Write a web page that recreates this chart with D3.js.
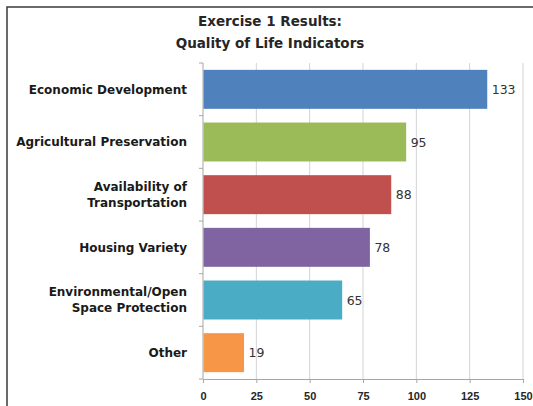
<!DOCTYPE html>
<html lang="en">
<head>
    <meta charset="UTF-8">
    <style>
        body { margin: 0; background: #fff; }
        svg { display: block; font-family: "DejaVu Sans", sans-serif; }
        .grid line { stroke: #d4d4d4; stroke-width: 1px; }
        .axis path, .axis line { stroke: #a6a6a6; stroke-width: 1px; }
        .axis text { fill: #262626; font-weight: bold; font-size: 11px; }
        .cat { fill: #1a1a1a; font-weight: bold; font-size: 12px; }
        .val { fill: #333; font-size: 12.5px; }
        .title { fill: #262626; font-weight: bold; font-size: 13.5px; }
    </style>
</head>
<body>
    <svg width="533" height="406"></svg>
    <script src="https://cdn.jsdelivr.net/npm/d3@7"></script>
    <script>

        // data
        var categories = ["Economic Development", "Agricultural Preservation", "Availability of\nTransportation",
                          "Housing Variety", "Environmental/Open\nSpace Protection", "Other"];
        var values = [133, 95, 88, 78, 65, 19];
        var colors = ["#4f81bd", "#9bbb59", "#c0504d", "#8064a2", "#4bacc6", "#f79646"];
        var ticks = [0, 25, 50, 75, 100, 125, 150];
        var titleLines = ["Exercise 1 Results:", "Quality of Life Indicators"];

        var svg = d3.select("svg"),
                margin = {top: 63, right: 10, bottom: 27, left: 203},
                width = 523 - margin.left,
                height = 379 - margin.top;

        // frame round the chart (runs off the right and bottom)
        svg.append("rect")
                .attr("x", 7).attr("y", 7)
                .attr("width", 560).attr("height", 440)
                .attr("fill", "none")
                .attr("stroke", "#3a3a3a")
                .attr("stroke-width", 1.5);

        svg.append("g").selectAll("text")
                .data(titleLines)
                .enter().append("text")
                .attr("class", "title")
                .attr("x", 270)
                .attr("y", function(d, i) { return 26 + i * 22; })
                .attr("text-anchor", "middle")
                .text(function(d) { return d; });

        var g = svg.append("g").attr("transform", "translate(" + margin.left + "," + margin.top + ")");

        var x = d3.scaleLinear().domain([0, 150]).range([0, width]);
        var y = d3.scaleBand().domain(categories).range([0, height]).paddingInner(0.26).paddingOuter(0.13);

        g.append("g")
                .attr("class", "grid")
                .selectAll("line")
                .data(ticks.slice(1))
                .enter().append("line")
                .attr("x1", function(d) { return x(d); })
                .attr("x2", function(d) { return x(d); })
                .attr("y1", 0)
                .attr("y2", height);

        g.append("g")
                .attr("class", "axis axis--x")
                .attr("transform", "translate(0," + height + ")")
                .call(d3.axisBottom(x).tickValues(ticks).tickSize(4).tickSizeOuter(0).tickPadding(9));

        // left axis: ticks sit on the band edges
        var yAxis = g.append("g").attr("class", "axis axis--y");
        yAxis.append("line").attr("x1", 0).attr("x2", 0).attr("y1", 0).attr("y2", height);
        var step = height / categories.length;
        yAxis.selectAll(".edge")
                .data(d3.range(categories.length + 1))
                .enter().append("line")
                .attr("class", "edge")
                .attr("x1", -4).attr("x2", 0)
                .attr("y1", function(i) { return i * step; })
                .attr("y2", function(i) { return i * step; });

        g.selectAll(".bar")
                .data(values)
                .enter().append("rect")
                .attr("class", "bar")
                .attr("x", x(0) + 0.5)
                .attr("y", function(d, i) { return y(categories[i]); })
                .attr("width", function(d) { return x(d) - x(0); })
                .attr("height", y.bandwidth())
                .attr("fill", function(d, i) { return colors[i]; });

        g.selectAll(".val")
                .data(values)
                .enter().append("text")
                .attr("class", "val")
                .attr("x", function(d) { return x(d) + 5; })
                .attr("y", function(d, i) { return y(categories[i]) + y.bandwidth() / 2; })
                .attr("dy", "0.36em")
                .text(function(d) { return d; });

        var cat = g.selectAll(".cat")
                .data(categories)
                .enter().append("text")
                .attr("class", "cat")
                .attr("text-anchor", "end")
                .attr("transform", function(d) { return "translate(-16," + (y(d) + y.bandwidth() / 2) + ")"; });

        cat.each(function(d) {
            var lines = d.split("\n");
            var t = d3.select(this);
            lines.forEach(function(s, k) {
                t.append("tspan")
                        .attr("x", 0)
                        .attr("y", (k - (lines.length - 1) / 2) * 16)
                        .attr("dy", "0.36em")
                        .text(s);
            });
        });
    </script>
</body>
</html>
